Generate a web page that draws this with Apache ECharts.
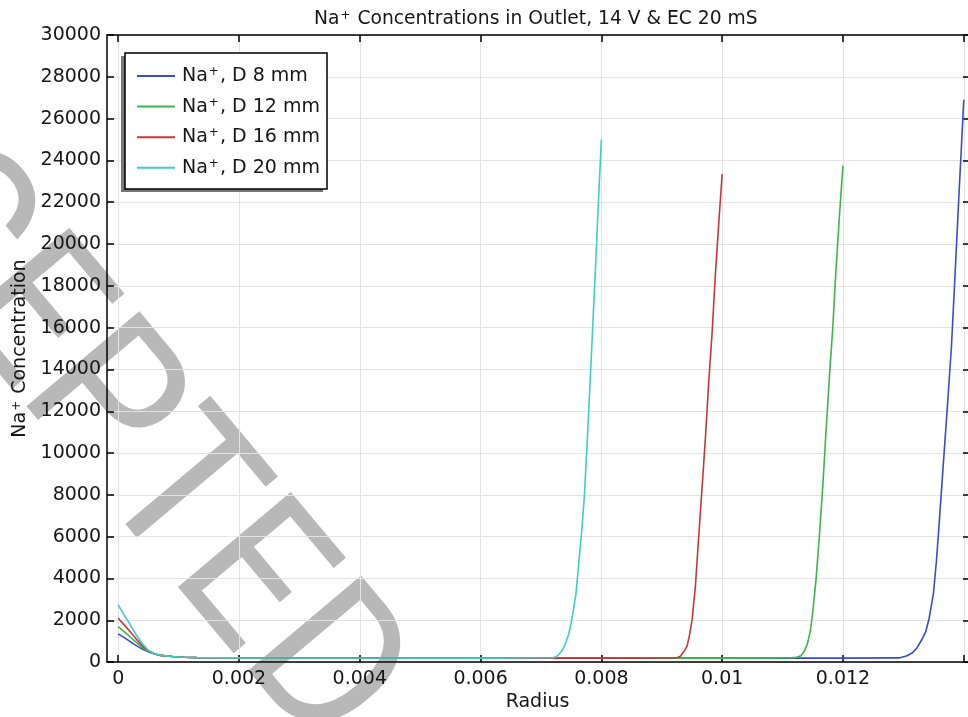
<!DOCTYPE html>
<html>
<head>
<meta charset="utf-8">
<script src="https://cdn.jsdelivr.net/npm/echarts@6/dist/echarts.min.js"></script>
<style>
  html, body { margin: 0; padding: 0; background: #ffffff; }
  #chart { width: 968px; height: 717px; }
</style>
</head>
<body>
<div id="chart"></div>
<script>
// Radius (m) and Na+ concentration profiles for four outlet diameters
const radiusD8 = [0, 0.0001, 0.0002, 0.0003, 0.0004, 0.0005, 0.0006, 0.0007, 0.0009, 0.0011, 0.0013,
  0.002, 0.004, 0.006, 0.008, 0.01, 0.012, 0.01293, 0.01305, 0.013151, 0.01323, 0.013306, 0.01337,
  0.013427, 0.01346, 0.013498, 0.013548, 0.013588, 0.013626, 0.013664, 0.013703, 0.013741, 0.013796,
  0.01385, 0.013912, 0.01396, 0.014];
const concD8 = [1350, 1170, 980, 790, 620, 490, 390, 320, 265, 235, 215,
  200, 195, 192, 190, 190, 190, 200, 290, 450, 700, 1080, 1450,
  2100, 2650, 3290, 4860, 6440, 8010, 9590, 11170, 12740, 15100,
  18200, 21880, 24600, 26900];

const radiusD12 = [0, 0.0001, 0.0002, 0.0003, 0.0004, 0.0005, 0.0006, 0.0007, 0.0009, 0.0011, 0.0013,
  0.002, 0.004, 0.006, 0.008, 0.01, 0.01114, 0.01123, 0.011305, 0.01136, 0.011416, 0.01146, 0.011498,
  0.011553, 0.011608, 0.011664, 0.011719, 0.011773, 0.011829, 0.011884, 0.011939, 0.012];
const concD12 = [1700, 1460, 1200, 940, 700, 520, 395, 320, 265, 235, 215,
  200, 195, 192, 190, 190, 200, 230, 300, 520, 920, 1500, 2340,
  3920, 5970, 8330, 11010, 13530, 15900, 18730, 21250, 23750];

const radiusD16 = [0, 0.0001, 0.0002, 0.0003, 0.0004, 0.0005, 0.0006, 0.0007, 0.0009, 0.0011, 0.0013,
  0.002, 0.004, 0.006, 0.008, 0.009197, 0.00926, 0.009308, 0.00936, 0.009419, 0.00946, 0.009502,
  0.009556, 0.009611, 0.009667, 0.009722, 0.009777, 0.009833, 0.009888, 0.009942, 0.01];
const concD16 = [2100, 1780, 1450, 1100, 780, 540, 400, 320, 265, 235, 215,
  200, 195, 192, 190, 200, 220, 280, 480, 765, 1300, 2020,
  3600, 5970, 8330, 10700, 13370, 15740, 18570, 20940, 23350];

const radiusD20 = [0, 0.0001, 0.0002, 0.0003, 0.0004, 0.0005, 0.0006, 0.0007, 0.0009, 0.0011, 0.0013,
  0.002, 0.004, 0.006, 0.00719, 0.00725, 0.0073, 0.00736, 0.00741, 0.00746, 0.0075, 0.00754, 0.00758,
  0.00763, 0.00768, 0.00772, 0.00776, 0.0078, 0.00784, 0.0079, 0.00795, 0.008];
const concD20 = [2730, 2250, 1780, 1300, 880, 560, 400, 320, 265, 235, 215,
  200, 195, 192, 210, 260, 370, 600, 920, 1350, 1870, 2550, 3290,
  4860, 6440, 8010, 10200, 12600, 15000, 18700, 21900, 25000];

const seriesNames = ['Na+, D 8 mm', 'Na+, D 12 mm', 'Na+, D 16 mm', 'Na+, D 20 mm'];
const seriesColors = ['#3a4cc8', '#3cb54a', '#c9343a', '#3ccfc4'];

const xTickValues = [0, 0.002, 0.004, 0.006, 0.008, 0.01, 0.012, 0.014];
const xTickLabels = ['0', '0.002', '0.004', '0.006', '0.008', '0.01', '0.012', '0.014'];
const xLabelValues = [0, 0.002, 0.004, 0.006, 0.008, 0.01, 0.012];

const X_MIN = -0.000185, X_MAX = 0.01407;
const Y_MIN = 0, Y_MAX = 30000, Y_STEP = 2000;

const FONT = "'DejaVu Sans', 'Liberation Sans', sans-serif";
const INK = '#161616';

function zip(xs, ys) { return xs.map((x, i) => [x, ys[i]]); }
const seriesData = [zip(radiusD8, concD8), zip(radiusD12, concD12), zip(radiusD16, concD16), zip(radiusD20, concD20)];

const supStyle = (size) => ({ fontFamily: FONT, fontSize: size, color: INK, verticalAlign: 'top', padding: [0, 1, 0, 1] });

const chart = echarts.init(document.getElementById('chart'), null, { renderer: 'canvas' });

const axisLineStyle = { color: '#000', width: 1.5 };

chart.setOption({
  animation: false,
  backgroundColor: '#ffffff',
  title: {
    text: 'Na{sup|+} Concentrations in Outlet, 14 V & EC 20 mS',
    left: 314, top: 10, padding: 0,
    textStyle: { fontFamily: FONT, fontSize: 18.7, fontWeight: 'normal', color: INK,
      rich: { sup: supStyle(12) } }
  },
  grid: { left: 107, right: 0, top: 35, bottom: 47.5, containLabel: false },
  legend: {
    orient: 'vertical', left: 137, top: 66, padding: 0,
    itemWidth: 38, itemHeight: 2, itemGap: 10.6, icon: 'rect',
    selectedMode: false, z: 20,
    data: seriesNames,
    formatter: (name) => name.replace('Na+', 'Na{sup|+}'),
    textStyle: { fontFamily: FONT, fontSize: 19, color: INK, lineHeight: 20, padding: [0, 0, 0, 2],
      rich: { sup: supStyle(12) } }
  },
  graphic: [
    {
      type: 'text', x: 52, y: 356, rotation: -50 * Math.PI / 180, scaleY: 1.08, z: -10, silent: true,
      style: { text: 'ACCEPTED', fontFamily: "Roboto, 'Liberation Sans', sans-serif", fontWeight: 'normal', fontSize: 192,
        fill: '#b8b8b8', align: 'center', verticalAlign: 'middle' }
    },
    { type: 'rect', z: 10, silent: true, shape: { x: 121, y: 56, width: 202, height: 136 }, style: { fill: '#777777' } },
    { type: 'rect', z: 11, silent: true, shape: { x: 125, y: 53, width: 202, height: 136 },
      style: { fill: '#ffffff', stroke: '#000000', lineWidth: 1.5 } }
  ],
  xAxis: [
    {
      type: 'value', position: 'bottom', min: X_MIN, max: X_MAX, splitNumber: 7,
      axisLine: { show: true, onZero: false, lineStyle: axisLineStyle },
      axisTick: { show: true, inside: true, length: 7, customValues: xTickValues, lineStyle: axisLineStyle },
      axisLabel: { customValues: xLabelValues, margin: 7, fontFamily: FONT, fontSize: 19, color: INK,
        formatter: (v) => { const i = xTickValues.findIndex(t => Math.abs(t - v) < 1e-9); return i >= 0 ? xTickLabels[i] : ''; } },
      splitLine: { show: true, lineStyle: { color: '#e3e3e3', width: 1 } },
      name: 'Radius', nameLocation: 'middle', nameGap: 24,
      nameTextStyle: { fontFamily: FONT, fontSize: 19, color: INK }
    },
    {
      type: 'value', position: 'top', min: X_MIN, max: X_MAX, splitNumber: 7,
      axisLine: { show: true, onZero: false, lineStyle: axisLineStyle },
      axisTick: { show: true, inside: true, length: 7, customValues: xTickValues, lineStyle: axisLineStyle },
      axisLabel: { show: false },
      splitLine: { show: false }
    }
  ],
  yAxis: [
    {
      type: 'value', position: 'left', min: Y_MIN, max: Y_MAX, interval: Y_STEP,
      axisLine: { show: true, onZero: false, lineStyle: axisLineStyle },
      axisTick: { show: true, inside: true, length: 7, lineStyle: axisLineStyle },
      axisLabel: { margin: 6, fontFamily: FONT, fontSize: 19, color: INK, formatter: (v) => String(v) },
      splitLine: { show: true, lineStyle: { color: '#e3e3e3', width: 1 } },
      name: 'Na{sup|+} Concentration', nameLocation: 'middle', nameGap: 68,
      nameTextStyle: { fontFamily: FONT, fontSize: 19, color: INK, rich: { sup: supStyle(12) } }
    },
    {
      type: 'value', position: 'right', min: Y_MIN, max: Y_MAX, interval: Y_STEP,
      axisLine: { show: false, onZero: false },
      axisTick: { show: true, inside: true, length: 5, lineStyle: axisLineStyle },
      axisLabel: { show: false },
      splitLine: { show: false }
    }
  ],
  series: seriesNames.map((name, i) => ({
    name: name,
    type: 'line',
    xAxisIndex: 0, yAxisIndex: 0,
    data: seriesData[i],
    showSymbol: false, symbol: 'none',
    color: seriesColors[i],
    lineStyle: { color: seriesColors[i], width: 1.6 },
    itemStyle: { color: seriesColors[i] },
    z: 2 + i
  }))
});
</script>
</body>
</html>
